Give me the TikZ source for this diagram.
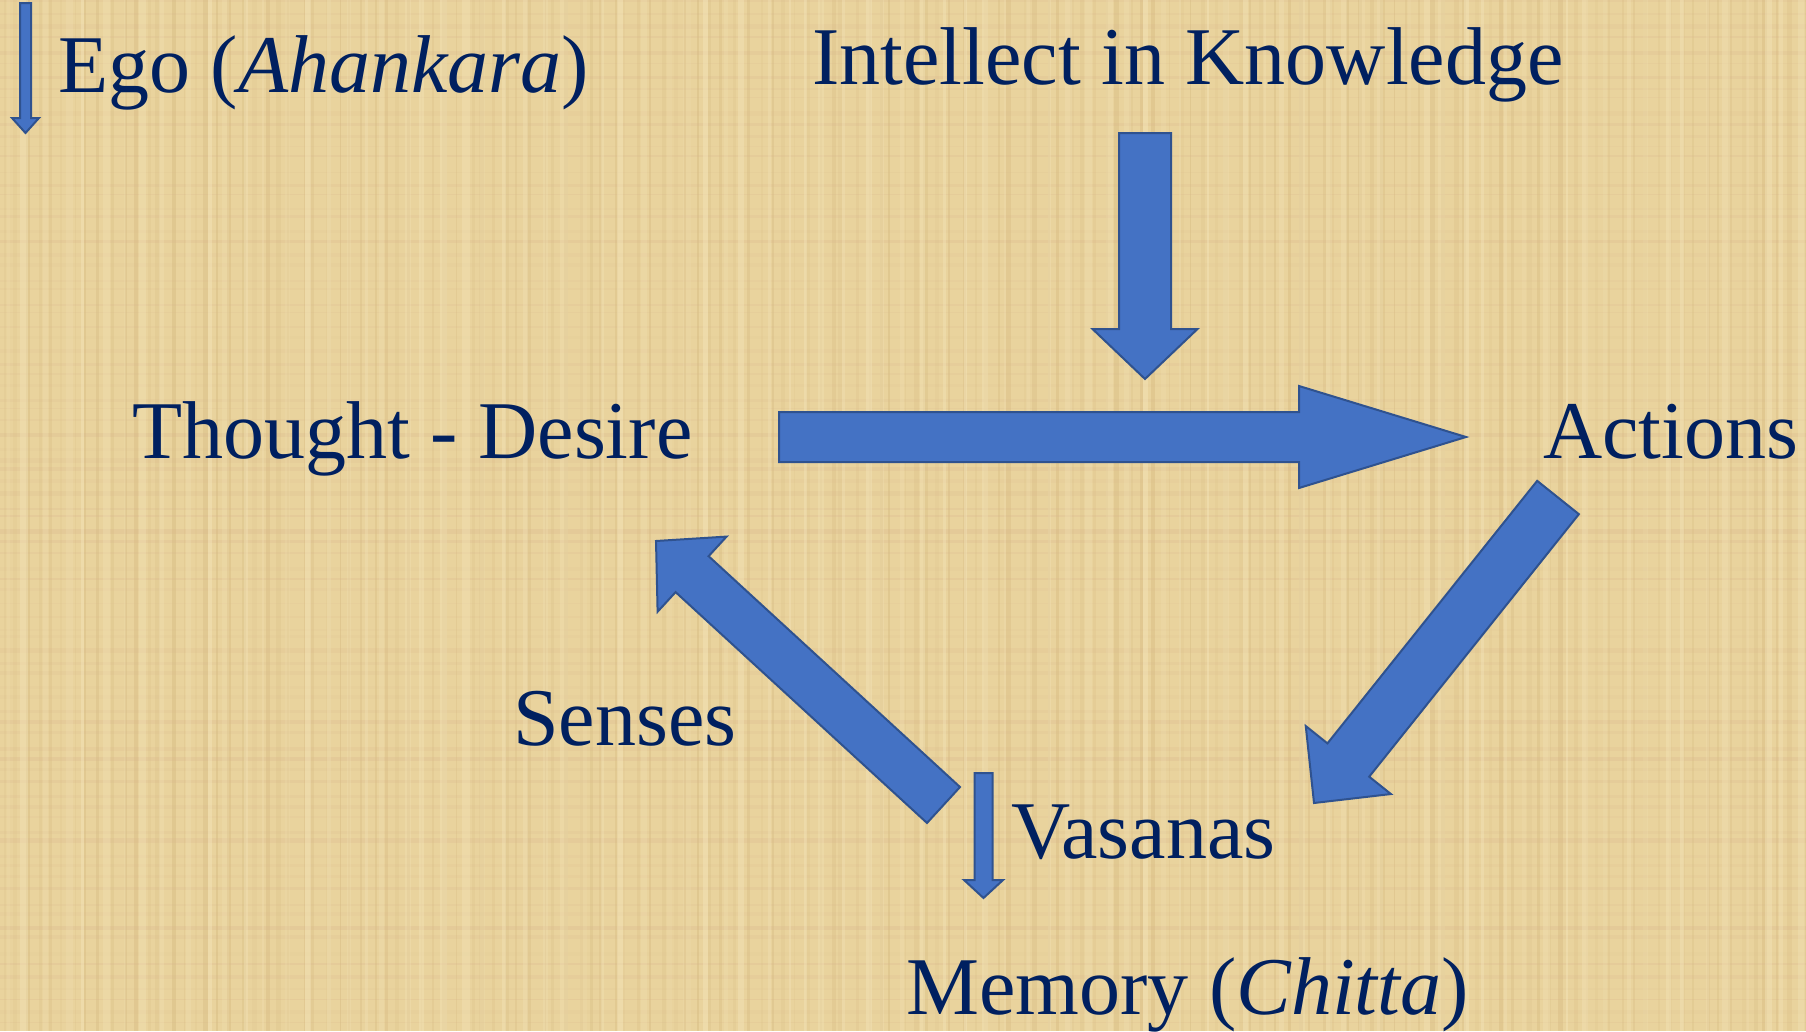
\documentclass[tikz,border=0pt]{standalone}
\usepackage{fontspec}
\setmainfont{Liberation Serif}
\usetikzlibrary{calc}
\definecolor{bgbase}{HTML}{E9D39D}
\definecolor{bgdark}{HTML}{CDAE72}
\definecolor{bglight}{HTML}{F5E6BC}
\definecolor{bgpink}{HTML}{D9B48C}
\definecolor{arrfill}{HTML}{4472C4}
\definecolor{arrline}{HTML}{2F528F}
\definecolor{txtblue}{HTML}{002060}
\tikzset{
  txtnode/.style={text=txtblue, font=\fontsize{82}{98}\selectfont, inner sep=0pt, anchor=base west},
  blockarr/.style={fill=arrfill, draw=arrline, line width=2pt, line join=miter},
}
% #1 tail, #2 tip, #3 shaft half width, #4 head half width, #5 head length
\newcommand\myblockarrow[5]{%
  \coordinate (#1-#2-b) at ($(#2)!#5!(#1)$);
  \draw[blockarr] ($(#1)!#3!90:(#2)$) -- ($(#1-#2-b)!#3!90:(#2)$) -- ($(#1-#2-b)!#4!90:(#2)$)
    -- (#2) -- ($(#1-#2-b)!#4!-90:(#2)$) -- ($(#1-#2-b)!#3!-90:(#2)$) -- ($(#1)!#3!-90:(#2)$) -- cycle;}
\begin{document}
\begin{tikzpicture}[x=1pt,y=-1pt]
\useasboundingbox (0,0) rectangle (1806,1031);
% papyrus background
\fill[bgbase] (0,0) rectangle (1806,1031);
\pgfmathsetseed{7}
\begin{scope}
\clip (0,0) rectangle (1806,1031);
\foreach \i in {0,...,150}{
  \pgfmathsetmacro\xx{\i*12+6*rnd}
  \pgfmathsetmacro\op{0.08+0.22*rnd}
  \pgfmathsetmacro\lw{1+4*rnd}
  \draw[bgdark, opacity=\op, line width=\lw pt] (\xx,0) -- (\xx,1031);
}
\foreach \i in {0,...,86}{
  \pgfmathsetmacro\yy{\i*12+6*rnd}
  \pgfmathsetmacro\op{0.06+0.2*rnd}
  \pgfmathsetmacro\lw{1+4*rnd}
  \draw[bgpink, opacity=\op, line width=\lw pt] (0,\yy) -- (1806,\yy);
}
\foreach \i in {0,...,90}{
  \pgfmathsetmacro\xx{\i*20+10*rnd}
  \pgfmathsetmacro\op{0.15+0.3*rnd}
  \pgfmathsetmacro\lw{2+6*rnd}
  \draw[bglight, opacity=\op, line width=\lw pt] (\xx,0) -- (\xx,1031);
}
\end{scope}

% texts
\node[txtnode] (ego) at (58,92) {Ego (\textit{Ahankara})};
\node[txtnode] (intellect) at (812,84) {Intellect in Knowledge};
\node[txtnode] (thought) at (132,458) {Thought - Desire};
\node[txtnode] (actions) at (1543,458) {Actions};
\node[txtnode] (senses) at (513,745) {Senses};
\node[txtnode] (vasanas) at (1011,858) {Vasanas};
\node[txtnode] (memory) at (906,1014) {Memory (\textit{Chitta})};

% arrow end points
\coordinate (egoT) at (25.5,3);
\coordinate (egoP) at (25.5,133);
\coordinate (intT) at (1145,133);
\coordinate (intP) at (1145,379);
\coordinate (thT) at (779,437);
\coordinate (acP) at (1466,437);
\coordinate (acT) at (1558,497.5);
\coordinate (vaP) at (1314,803);
\coordinate (seT) at (943.5,805);
\coordinate (thP) at (656,541);
\coordinate (vmT) at (983.5,773);
\coordinate (vmP) at (983.5,898);

% arrows
\myblockarrow{egoT}{egoP}{5.5pt}{13.5pt}{15pt}
\myblockarrow{intT}{intP}{26pt}{52.5pt}{50pt}
\myblockarrow{thT}{acP}{25pt}{51pt}{167pt}
\myblockarrow{acT}{vaP}{26.7pt}{54.5pt}{55pt}
\myblockarrow{seT}{thP}{24.4pt}{51pt}{49pt}
\myblockarrow{vmT}{vmP}{9pt}{19.5pt}{18pt}
\end{tikzpicture}
\end{document}
